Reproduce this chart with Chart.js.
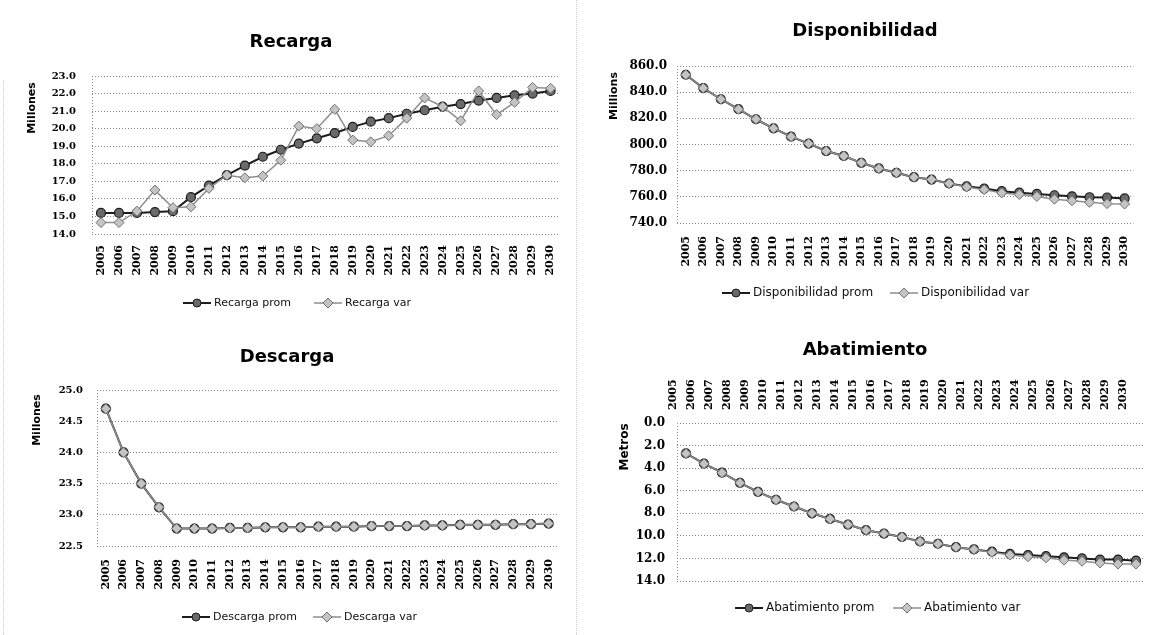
<!DOCTYPE html>
<html>
<head>
<meta charset="utf-8">
<script src="https://cdn.jsdelivr.net/npm/chart.js@4.4.1/dist/chart.umd.min.js"></script>
<style>
  html, body { margin: 0; padding: 0; background: #fff; }
  #sheet { position: relative; width: 1151px; height: 635px; overflow: hidden; background: #fff; }
  .panel { position: absolute; }
  .panel canvas { display: block; }
  .rule { position: absolute; border-left: 1px dotted #c8c8c8; }
</style>
</head>
<body>
<div id="sheet">
  <div class="rule" style="left:3px;top:80px;height:555px"></div>
  <div class="rule" style="left:576px;top:0;height:635px"></div>
  <div class="panel" style="left:0;top:0"><canvas id="cRecarga" width="575" height="328"></canvas></div>
  <div class="panel" style="left:575px;top:0"><canvas id="cDisp" width="576" height="328"></canvas></div>
  <div class="panel" style="left:0;top:328px"><canvas id="cDesc" width="575" height="307"></canvas></div>
  <div class="panel" style="left:575px;top:328px"><canvas id="cAbat" width="576" height="307"></canvas></div>
</div>
<script>
// Years of the projection
const years = ['2005','2006','2007','2008','2009','2010','2011','2012','2013','2014','2015','2016','2017',
               '2018','2019','2020','2021','2022','2023','2024','2025','2026','2027','2028','2029','2030'];

// Recarga (millones)
const recargaProm = [15.2, 15.2, 15.2, 15.25, 15.3, 16.1, 16.75, 17.35, 17.9, 18.4, 18.8, 19.15, 19.45,
                     19.75, 20.1, 20.4, 20.6, 20.85, 21.05, 21.25, 21.4, 21.6, 21.75, 21.9, 22.0, 22.15];
const recargaVar  = [14.65, 14.65, 15.3, 16.5, 15.5, 15.55, 16.6, 17.35, 17.2, 17.3, 18.2, 20.15, 20.0,
                     21.1, 19.35, 19.25, 19.6, 20.6, 21.75, 21.25, 20.45, 22.15, 20.8, 21.5, 22.35, 22.3];

// Disponibilidad (millions)
const dispProm = [853.3, 843.1, 834.6, 827.0, 819.3, 812.4, 806.0, 800.7, 795.0, 791.2, 786.0, 781.7, 778.4,
                  775.0, 773.2, 770.2, 768.0, 766.3, 764.3, 763.2, 762.2, 761.2, 760.4, 759.7, 759.5, 758.8];
const dispVar  = [853.3, 843.1, 834.6, 827.0, 819.3, 812.4, 806.0, 800.7, 795.0, 791.2, 786.0, 781.7, 778.4,
                  775.0, 773.2, 770.2, 767.5, 765.5, 763.0, 761.8, 760.3, 758.2, 757.0, 755.8, 754.8, 754.5];

// Descarga (millones)
const descProm = [24.7, 24.0, 23.5, 23.12, 22.78, 22.78, 22.78, 22.79, 22.79, 22.8, 22.8, 22.8, 22.81,
                  22.81, 22.81, 22.82, 22.82, 22.82, 22.83, 22.83, 22.84, 22.84, 22.84, 22.85, 22.85, 22.86];
const descVar  = [24.7, 24.0, 23.5, 23.12, 22.78, 22.78, 22.78, 22.79, 22.79, 22.8, 22.8, 22.8, 22.81,
                  22.81, 22.81, 22.82, 22.82, 22.82, 22.83, 22.83, 22.84, 22.84, 22.84, 22.85, 22.85, 22.86];

// Abatimiento (metros)
const abatProm = [2.7, 3.6, 4.4, 5.3, 6.1, 6.8, 7.4, 8.0, 8.5, 9.0, 9.5, 9.8, 10.1,
                  10.5, 10.7, 11.0, 11.2, 11.4, 11.6, 11.7, 11.8, 11.9, 12.0, 12.1, 12.1, 12.2];
const abatVar  = [2.7, 3.6, 4.4, 5.3, 6.1, 6.8, 7.4, 8.0, 8.5, 9.0, 9.5, 9.8, 10.1,
                  10.5, 10.7, 11.0, 11.2, 11.45, 11.7, 11.85, 11.95, 12.15, 12.25, 12.4, 12.5, 12.5];

const SERIF = "'DejaVu Serif', 'Liberation Serif', serif";
const SANS = "'DejaVu Sans', 'Liberation Sans', sans-serif";

// Title, rotated axis caption, dotted plot edge and legend for each panel
const panelDecor = {
  id: 'panelDecor',
  beforeDatasetsDraw(chart) {
    const {ctx, chartArea: a} = chart;
    ctx.save();
    ctx.strokeStyle = '#8a8a8a';
    ctx.lineWidth = 1;
    ctx.setLineDash([1, 2]);
    ctx.beginPath();
    ctx.moveTo(Math.round(a.left) + 0.5, a.top);
    ctx.lineTo(Math.round(a.left) + 0.5, a.bottom);
    ctx.stroke();
    ctx.restore();
  },
  afterDraw(chart, args, o) {
    const ctx = chart.ctx;
    ctx.save();
    ctx.fillStyle = '#000';
    ctx.textAlign = 'center';
    ctx.textBaseline = 'middle';
    ctx.font = 'bold ' + o.titleSize + 'px ' + SANS;
    ctx.fillText(o.title, o.titleX, o.titleY);
    ctx.translate(o.axisX, o.axisY);
    ctx.rotate(-Math.PI / 2);
    ctx.font = 'bold ' + o.axisSize + 'px ' + SANS;
    ctx.fillText(o.axisTitle, 0, 0);
    ctx.restore();

    chart.data.datasets.forEach((ds, i) => {
      const x0 = o.legendX[i], y = o.legendY;
      ctx.save();
      ctx.strokeStyle = ds.borderColor;
      ctx.lineWidth = ds.borderWidth;
      ctx.beginPath();
      ctx.moveTo(x0, y);
      ctx.lineTo(x0 + 28, y);
      ctx.stroke();
      const cx = x0 + 14, r = 4;
      ctx.fillStyle = ds.pointBackgroundColor;
      ctx.strokeStyle = ds.pointBorderColor;
      ctx.lineWidth = 1;
      ctx.beginPath();
      if (ds.pointStyle === 'rectRot') {
        ctx.moveTo(cx, y - r - 1); ctx.lineTo(cx + r + 1, y); ctx.lineTo(cx, y + r + 1); ctx.lineTo(cx - r - 1, y);
        ctx.closePath();
      } else {
        ctx.arc(cx, y, r, 0, Math.PI * 2);
      }
      ctx.fill();
      ctx.stroke();
      ctx.fillStyle = '#111';
      ctx.font = o.legendSize + 'px ' + SANS;
      ctx.textAlign = 'left';
      ctx.textBaseline = 'middle';
      ctx.fillText(ds.label, x0 + 31, y);
      ctx.restore();
    });
  }
};

function makePanel(id, p) {
  return new Chart(document.getElementById(id), {
    type: 'line',
    data: {
      labels: years,
      datasets: [
        {
          label: p.names[0], data: p.prom, order: 1,
          borderColor: '#1c1c1c', borderWidth: 2,
          pointStyle: 'circle', pointRadius: 4.5,
          pointBackgroundColor: '#6a6a6a', pointBorderColor: '#1c1c1c', pointBorderWidth: 1.2,
          tension: 0, fill: false
        },
        {
          label: p.names[1], data: p.vari, order: 0,
          borderColor: '#8e8e8e', borderWidth: 1.5,
          pointStyle: 'rectRot', pointRadius: 5,
          pointBackgroundColor: '#c4c4c4', pointBorderColor: '#707070', pointBorderWidth: 1,
          tension: 0, fill: false
        }
      ]
    },
    options: {
      responsive: false,
      animation: false,
      events: [],
      layout: { padding: { left: 0, right: p.padR, top: p.padT, bottom: p.padB } },
      plugins: {
        legend: { display: false },
        tooltip: { enabled: false },
        panelDecor: p.decor
      },
      scales: {
        x: {
          position: p.xPos,
          offset: true,
          grid: { display: false, drawTicks: false },
          border: { display: false },
          ticks: {
            autoSkip: false, minRotation: 90, maxRotation: 90, padding: p.xPad,
            color: '#000', font: { family: SERIF, weight: 'bold', size: 11 }
          },
          afterFit: s => { s.height = p.xH; }
        },
        y: {
          reverse: !!p.reverse,
          min: p.min, max: p.max,
          grid: { color: '#8a8a8a', lineWidth: 1, drawTicks: false },
          border: { display: false, dash: [1, 2] },
          ticks: {
            stepSize: p.step, padding: p.yPad,
            callback: v => Number(v).toFixed(1),
            color: '#000', font: { family: SERIF, weight: 'bold', size: p.ySize }
          },
          afterFit: s => { s.width = p.yW; }
        }
      }
    },
    plugins: [panelDecor]
  });
}

makePanel('cRecarga', {
  names: ['Recarga prom', 'Recarga var'], prom: recargaProm, vari: recargaVar,
  min: 14, max: 23, step: 1, ySize: 10, yPad: 16, yW: 92,
  xPos: 'bottom', xPad: 11, xH: 94, padR: 12, padT: 76, padB: 0,
  decor: { title: 'Recarga', titleSize: 18, titleX: 291, titleY: 42,
           axisTitle: 'Millones', axisSize: 11, axisX: 32, axisY: 108,
           legendX: [183, 314], legendY: 303, legendSize: 11 }
});

makePanel('cDisp', {
  names: ['Disponibilidad prom', 'Disponibilidad var'], prom: dispProm, vari: dispVar,
  min: 740, max: 860, step: 20, ySize: 12, yPad: 10, yW: 102,
  xPos: 'bottom', xPad: 13, xH: 105, padR: 9, padT: 66, padB: 0,
  decor: { title: 'Disponibilidad', titleSize: 18, titleX: 290, titleY: 31,
           axisTitle: 'Millions', axisSize: 11, axisX: 39, axisY: 96,
           legendX: [147, 315], legendY: 293, legendSize: 12 }
});

makePanel('cDesc', {
  names: ['Descarga prom', 'Descarga var'], prom: descProm, vari: descVar,
  min: 22.5, max: 25, step: 0.5, ySize: 10, yPad: 14, yW: 97,
  xPos: 'bottom', xPad: 13, xH: 89, padR: 6, padT: 62, padB: 0,
  decor: { title: 'Descarga', titleSize: 18, titleX: 287, titleY: 29,
           axisTitle: 'Millones', axisSize: 11, axisX: 37, axisY: 92,
           legendX: [182, 313], legendY: 289, legendSize: 11 }
});

makePanel('cAbat', {
  names: ['Abatimiento prom', 'Abatimiento var'], prom: abatProm, vari: abatVar,
  min: 0, max: 14, step: 2, reverse: true, ySize: 12, yPad: 12, yW: 102,
  xPos: 'top', xPad: 13, xH: 95, padR: 6, padT: 0, padB: 54,
  decor: { title: 'Abatimiento', titleSize: 18, titleX: 290, titleY: 22,
           axisTitle: 'Metros', axisSize: 12, axisX: 50, axisY: 119,
           legendX: [160, 318], legendY: 280, legendSize: 12 }
});
</script>
</body>
</html>
